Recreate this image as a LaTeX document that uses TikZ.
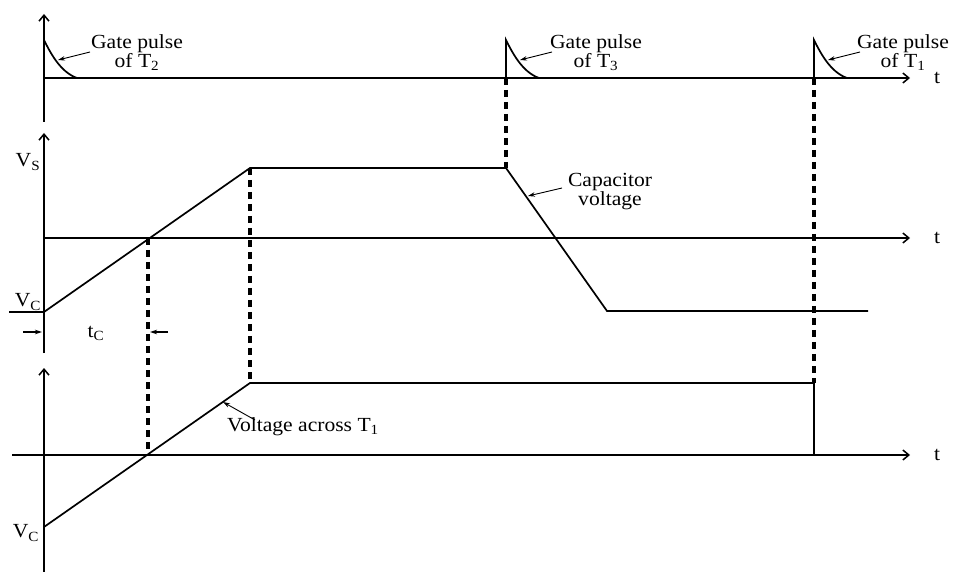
\documentclass[tikz,border=0pt]{standalone}
\usepackage{fontspec}
\usepackage{graphicx}
\setmainfont{Liberation Serif}
\usetikzlibrary{arrows.meta}
\newcommand{\sx}[1]{\scalebox{1.08}[1]{#1}}
\tikzset{
  axis/.style={line width=1.8pt,-{Straight Barb[length=6pt,width=10pt,line width=1.5pt]}},
  axisline/.style={line width=1.8pt},
  wave/.style={line width=1.7pt},
  guide/.style={line width=3.2pt,dash pattern=on 7pt off 5pt},
  lblarrow/.style={line width=0.9pt,-{Stealth[length=7pt,width=4.5pt]}},
  lbl/.style={font=\fontsize{20}{19}\selectfont,align=center,inner sep=0pt}
}
\begin{document}
\begin{tikzpicture}[x=1pt,y=-1pt]
\useasboundingbox (0,0) rectangle (954,572);
% ---------- coordinates ----------
% top panel
\coordinate (ta0) at (44,122);
\coordinate (ta1) at (44,14);
\coordinate (th0) at (44,78);
\coordinate (th1) at (910,78);
\coordinate (p2top) at (44,40);
\coordinate (p2end) at (77,78);
\coordinate (p3base) at (506,78);
\coordinate (p3top) at (506,40);
\coordinate (p3end) at (539,78);
\coordinate (p1base) at (814,78);
\coordinate (p1top) at (814,40);
\coordinate (p1end) at (847,78);
% middle panel
\coordinate (ma0) at (44,353);
\coordinate (ma1) at (44,133);
\coordinate (mh0) at (44,238);
\coordinate (mh1) at (910,238);
\coordinate (vctick) at (9,312);
\coordinate (m1) at (44,312);
\coordinate (m2) at (250,168);
\coordinate (m3) at (506,168);
\coordinate (m4) at (607,311);
\coordinate (m5) at (868,311);
\coordinate (mz) at (148,238);
% bottom panel
\coordinate (ba0) at (44,572);
\coordinate (ba1) at (44,368);
\coordinate (bh0) at (12,455);
\coordinate (bh1) at (910,455);
\coordinate (b0) at (44,455);
\coordinate (b1) at (44,527);
\coordinate (b2) at (250,383);
\coordinate (b3) at (814,383);
\coordinate (b4) at (814,455);
\coordinate (bz) at (148,455);
% ---------- axes ----------
\draw[axisline] (ta0) -- (p2top);
\draw[axis] (p2top) -- (ta1);
\draw[axis] (th0) -- (th1);
\draw[axis] (ma0) -- (ma1);
\draw[axis] (mh0) -- (mh1);
\draw[axis] (ba0) -- (ba1);
\draw[axis,line width=1.4pt] (bh0) -- (bh1);
% ---------- gate pulses ----------
\draw[wave] (p2top) .. controls (50,52) and (60,72) .. (p2end);
\draw[wave] (p3base) -- (p3top) .. controls (512,52) and (522,72) .. (p3end);
\draw[wave] (p1base) -- (p1top) .. controls (820,52) and (830,72) .. (p1end);
% ---------- capacitor voltage ----------
\draw[wave] (vctick) -- (m1) -- (m2) -- (m3) -- (m4) -- (m5);
% ---------- voltage across T1 ----------
\draw[wave] (b0) -- (b1) -- (b2) -- (b3) -- (b4);
% ---------- dashed guides ----------
\draw[guide] (mz) -- (bz);
\draw[guide] (m2) -- (b2);
\draw[guide] (p3base) -- (m3);
\draw[guide] (p1base) -- (b3);
% ---------- labels ----------
\node[lbl] (g2) at (137,53) {\sx{Gate pulse}\\[0pt]\sx{of T\textsubscript{2}}};
\node[lbl] (g3) at (596,53) {\sx{Gate pulse}\\[0pt]\sx{of T\textsubscript{3}}};
\node[lbl] (g1) at (903,53) {\sx{Gate pulse}\\[0pt]\sx{of T\textsubscript{1}}};
\node[lbl] (t1) at (937,78) {\sx{t}};
\node[lbl] (t2) at (937,238) {\sx{t}};
\node[lbl] (t3) at (937,455) {\sx{t}};
\node[lbl] (vs) at (28,162) {\sx{V\textsubscript{S}}};
\node[lbl] (vc1) at (28,302) {\sx{V\textsubscript{C}}};
\node[lbl] (vc2) at (26,533) {\sx{V\textsubscript{C}}};
\node[lbl] (tc) at (96,333) {\sx{t\textsubscript{C}}};
\node[lbl] (cap) at (610,192) {\sx{Capacitor}\\[0pt]\sx{voltage}};
\node[lbl] (vat) at (303,427) {\sx{Voltage across T\textsubscript{1}}};
% ---------- label arrows ----------
\coordinate (g2a) at (90,52);  \coordinate (g2b) at (58,60);
\coordinate (g3a) at (552,52); \coordinate (g3b) at (520,60);
\coordinate (g1a) at (860,52); \coordinate (g1b) at (828,60);
\coordinate (capa) at (562,188); \coordinate (capb) at (528,196);
\coordinate (vata) at (255,420); \coordinate (vatb) at (223,402);
\coordinate (tca) at (23,332); \coordinate (tcb) at (42,332);
\coordinate (tcc) at (168,332); \coordinate (tcd) at (150,332);
\draw[lblarrow] (g2a) -- (g2b);
\draw[lblarrow] (g3a) -- (g3b);
\draw[lblarrow] (g1a) -- (g1b);
\draw[lblarrow] (capa) -- (capb);
\draw[lblarrow] (vata) -- (vatb);
\draw[lblarrow,line width=1.2pt] (tca) -- (tcb);
\draw[lblarrow,line width=1.2pt] (tcc) -- (tcd);
\end{tikzpicture}
\end{document}
